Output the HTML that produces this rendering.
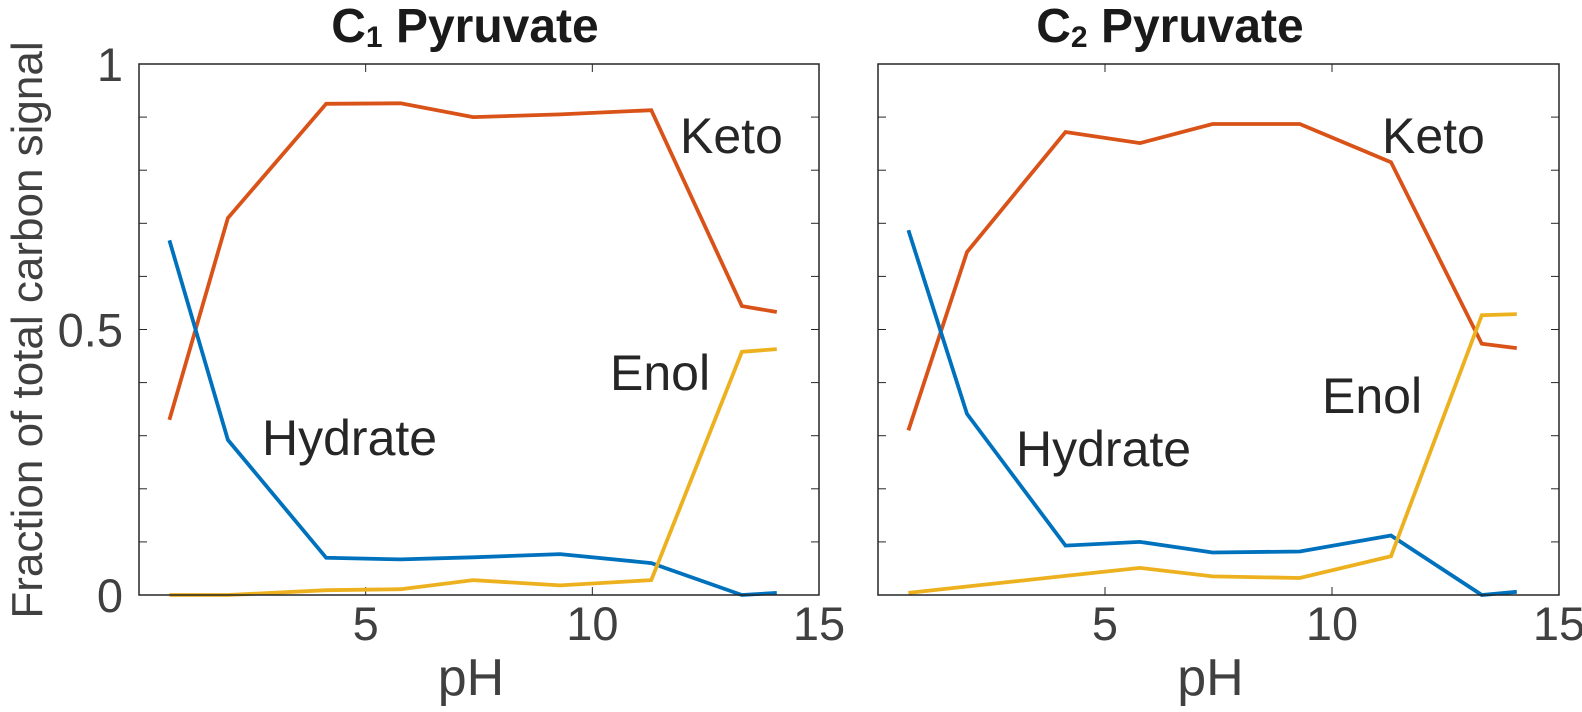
<!DOCTYPE html>
<html><head><meta charset="utf-8"><style>
body{margin:0;background:#fff;}
svg{display:block;font-family:"Liberation Sans",Arial,sans-serif;}
</style></head><body>
<svg id="chart" width="1582" height="712" viewBox="0 0 1582 712" xmlns="http://www.w3.org/2000/svg"></svg>
<script>
const phValues = [0.67, 1.96, 4.13, 5.77, 7.37, 9.29, 11.3, 13.3, 14.07];
const c1Keto = [0.33, 0.71, 0.925, 0.926, 0.90, 0.905, 0.913, 0.544, 0.533];
const c1Hydrate = [0.668, 0.292, 0.070, 0.067, 0.071, 0.077, 0.060, 0.0, 0.004];
const c1Enol = [0.0, 0.0, 0.009, 0.011, 0.028, 0.018, 0.028, 0.458, 0.463];
const c2Keto = [0.31, 0.646, 0.872, 0.851, 0.887, 0.887, 0.815, 0.473, 0.465];
const c2Hydrate = [0.687, 0.341, 0.093, 0.100, 0.080, 0.082, 0.112, 0.0, 0.006];
const c2Enol = [0.004, 0.016, 0.036, 0.051, 0.035, 0.032, 0.073, 0.527, 0.529];
const xTicks = [5, 10, 15];
const yTickLabels = [0, 0.5, 1];

const NS = "http://www.w3.org/2000/svg";
const svg = document.getElementById("chart");
function mk(tag, attrs, parent) {
  const e = document.createElementNS(NS, tag);
  for (const k in attrs) e.setAttribute(k, attrs[k]);
  (parent || svg).appendChild(e);
  return e;
}
const COL = {keto: "#D95319", hydrate: "#0072BD", enol: "#EDB120"};
const Y0 = 595, Y1 = 64;

function panel(id, x0, x1, title, sub, titleX, keto, hyd, enol, labels, showY) {
  const g = mk("g", {});
  
  
  const xs = v => x0 + (x1 - x0) * v / 15;
  const ys = v => Y0 - (Y0 - Y1) * v;
  for (let i = 0; i <= 10; i++) {
    const y = ys(i / 10);
    const t1 = mk("line", {x1: x0, x2: x0 + 8, y1: y, y2: y, stroke: "#262626", "stroke-width": 1}, g);
    
    
    const t2 = mk("line", {x1: x1, x2: x1 - 8, y1: y, y2: y, stroke: "#262626", "stroke-width": 1}, g);
    
    
  }
  xTicks.forEach(v => {
    const x = xs(v);
    const a = mk("line", {x1: x, x2: x, y1: Y0, y2: Y0 - 8, stroke: "#262626", "stroke-width": 1}, g);
    
    
    const b = mk("line", {x1: x, x2: x, y1: Y1, y2: Y1 + 8, stroke: "#262626", "stroke-width": 1}, g);
    
    
    const t = mk("text", {x: x, y: 640, "text-anchor": "middle", "font-size": 47, fill: "#404040"}, g);
    t.textContent = v;
    
    
  });
  if (showY) {
    yTickLabels.forEach(v => {
      const t = mk("text", {x: x0 - 16, y: ys(v) + 17, "text-anchor": "end", "font-size": 47, fill: "#404040"}, g);
      t.textContent = v;
      
      
    });
  }
  const series = [["keto", keto], ["hydrate", hyd], ["enol", enol]];
  series.forEach(([n, arr]) => {
    const pts = arr.map((v, i) => xs(phValues[i]).toFixed(1) + "," + ys(v).toFixed(1)).join(" ");
    const p = mk("polyline", {points: pts, fill: "none", stroke: COL[n], "stroke-width": 3.8, "stroke-linejoin": "miter"}, g);
    
    
  });
  const box = mk("rect", {x: x0, y: Y1, width: x1 - x0, height: Y0 - Y1, fill: "none", stroke: "#262626", "stroke-width": 1.5}, g);
  
  
  const tt = mk("text", {x: titleX, y: 42, "text-anchor": "middle", "font-size": 48, "font-weight": "bold", fill: "#1a1a1a"}, g);
  tt.innerHTML = title + '<tspan font-size="30" dy="5">' + sub + '</tspan><tspan dy="-5"> Pyruvate</tspan>';
  
  
  labels.forEach(([txt, x, y]) => {
    const t = mk("text", {x: x, y: y, "font-size": 50, fill: "#262626"}, g);
    t.textContent = txt;
    
    
  });
  const xl = mk("text", {x: (x0 + x1) / 2 - 8, y: 695, "text-anchor": "middle", "font-size": 52, fill: "#404040"}, g);
  xl.textContent = "pH";
  
  
}
panel("c1", 139, 819, "C", "1", 465, c1Keto, c1Hydrate, c1Enol,
  [["Keto", 680, 153], ["Enol", 610, 390], ["Hydrate", 262, 455]], true);
panel("c2", 878, 1559, "C", "2", 1170, c2Keto, c2Hydrate, c2Enol,
  [["Keto", 1382, 153], ["Enol", 1322, 413], ["Hydrate", 1016, 466]], false);
const yt = mk("text", {x: 0, y: 0, "text-anchor": "middle", "font-size": 44, fill: "#404040", transform: "translate(42,330) rotate(-90)"});
yt.textContent = "Fraction of total carbon signal";


</script>
</body></html>
